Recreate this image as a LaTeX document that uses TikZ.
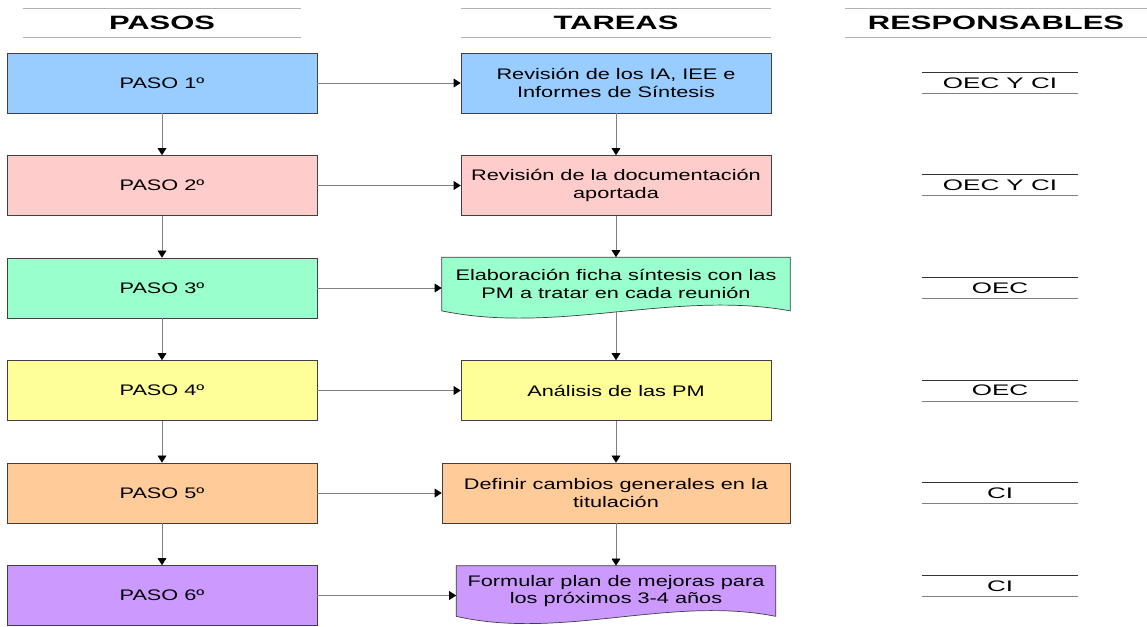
\documentclass[tikz,border=0pt]{standalone}
\usepackage{fontspec}
\setmainfont{Liberation Sans}[FakeStretch=1.42]
\newfontfamily\titfont{Liberation Sans}[FakeStretch=1.6]
\newfontfamily\respfont{Liberation Sans}[FakeStretch=1.7]
\usetikzlibrary{arrows.meta,backgrounds}
\definecolor{azul}{HTML}{99CCFF}
\definecolor{rosa}{HTML}{FFCCCC}
\definecolor{verde}{HTML}{99FFCC}
\definecolor{amarillo}{HTML}{FFFF99}
\definecolor{naranja}{HTML}{FFCC99}
\definecolor{lila}{HTML}{CC99FF}
% hoja: documento con borde inferior ondulado
\newcommand{\hoja}[3]{%
\begin{pgfonlayer}{background}
\filldraw[draw=black!75,fill=#2] (#1.north west) -- (#1.north east) -- (#1.south east)
  .. controls +(-#3,-21) and +(#3,24) .. (#1.south west) -- cycle;
\end{pgfonlayer}}
\begin{document}
\begin{tikzpicture}[x=0.02cm,y=-0.02cm,
  caja/.style={draw=black!75,minimum height=1.2cm,align=center,
    font=\fontsize{8.7}{9.8}\selectfont,inner sep=0pt},
  paso/.style={caja,minimum width=6.2cm},
  tarea/.style={caja,minimum width=6.2cm},
  hojanodo/.style={caja,draw=none},
  titulo/.style={font=\titfont\fontsize{11}{12}\selectfont\bfseries,minimum height=0.56cm,inner sep=0pt},
  raya/.style={draw=black!30},
  resp/.style={minimum width=3.1cm,minimum height=0.4cm,inner sep=0pt,font=\respfont\fontsize{8.7}{9.8}\selectfont},
  flecha/.style={draw=black!50,-{Triangle[width=5pt,length=4pt,color=black]}}]
\useasboundingbox (0,0) rectangle (1147,626);

\node[titulo,minimum width=5.56cm] (h1) at (162,23) {PASOS};
\node[titulo,minimum width=6.2cm] (h2) at (616,23) {TAREAS};
\node[titulo,minimum width=6.04cm] (h3) at (996,23) {RESPONSABLES};
\foreach \h in {h1,h2,h3}
  \draw[raya] (\h.north west) -- (\h.north east) (\h.south west) -- (\h.south east);

\node[paso,fill=azul] (p1) at (162,83) {PASO 1º};
\node[paso,fill=rosa] (p2) at (162,185.5) {PASO 2º};
\node[paso,fill=verde] (p3) at (162,288) {PASO 3º};
\node[paso,fill=amarillo] (p4) at (162,390.5) {PASO 4º};
\node[paso,fill=naranja] (p5) at (162,493) {PASO 5º};
\node[paso,fill=lila] (p6) at (162,595.5) {PASO 6º};

\node[tarea,fill=azul] (t1) at (616,83) {Revisión de los IA, IEE e\\Informes de Síntesis};
\node[tarea,fill=rosa] (t2) at (616,185.5) {Revisión de la documentación\\aportada};
\node[hojanodo,minimum width=6.96cm,minimum height=1.06cm] (t3) at (616,284) {Elaboración ficha síntesis con las\\PM a tratar en cada reunión};
\hoja{t3}{verde}{116}
\node[tarea,fill=amarillo] (t4) at (616,390.5) {Análisis de las PM};
\node[tarea,fill=naranja,minimum width=6.96cm] (t5) at (616,493) {Definir cambios generales en la\\titulación};
\node[hojanodo,minimum width=6.38cm,minimum height=1.0cm] (t6) at (616,591) {Formular plan de mejoras para\\los próximos 3-4 años};
\hoja{t6}{lila}{106}

\foreach \a/\b in {p1/p2,p2/p3,p3/p4,p4/p5,p5/p6,t1/t2,t2/t3,t3/t4,t4/t5,t5/t6}
  \draw[flecha] (\a.south) -- (\b.north);
\foreach \i in {1,...,6}
  \draw[flecha] (p\i.east) -- (p\i.east -| t\i.west);

\foreach \y/\t [count=\i] in {83/OEC Y CI,185/OEC Y CI,288/OEC,390.5/OEC,493/CI,586/CI}{
  \node[resp] (r\i) at (1000,\y) {\t};
  \draw[black!80] (r\i.north west) -- (r\i.north east);
  \draw[black!50] (r\i.south west) -- (r\i.south east);
}
\end{tikzpicture}
\end{document}
